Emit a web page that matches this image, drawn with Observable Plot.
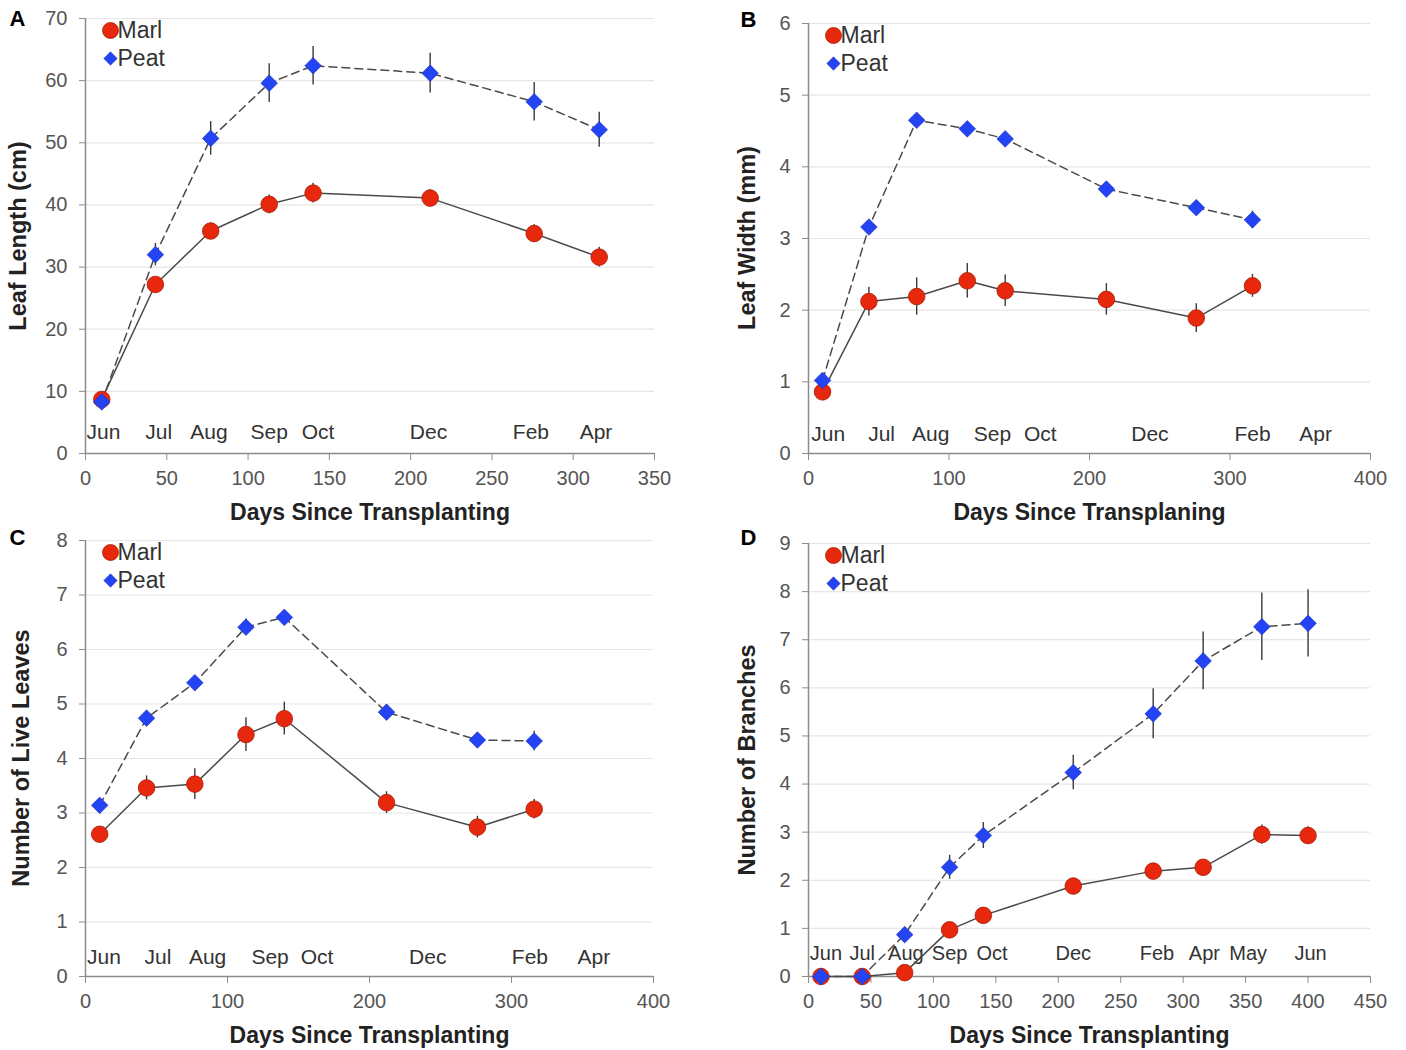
<!DOCTYPE html>
<html><head><meta charset="utf-8">
<script src="https://cdn.jsdelivr.net/npm/d3@7"></script>
<script src="https://cdn.jsdelivr.net/npm/@observablehq/plot@0.6"></script>
<style>
body{margin:0;background:#fff;}
#wrap{position:relative;width:1406px;height:1050px;background:#fff;}
.panel{position:absolute;}
.panel svg{overflow:visible;}
.ytitle{position:absolute;white-space:nowrap;font-family:'Liberation Sans',Arial,sans-serif;font-weight:bold;font-size:23.5px;color:#222;transform:translate(-50%,-50%) rotate(-90deg);line-height:1;}
</style></head><body><div id="wrap"></div>
<script>
// ---- data ----
const seriesNames = ["Marl", "Peat"];
const daysABC = [10, 43, 77, 113, 140, 212, 276, 316];
const daysD = [10, 43, 77, 113, 140, 212, 276, 316, 363, 400];

// A: Leaf Length (cm)
const marlA = [8.7, 27.2, 35.8, 40.1, 41.9, 41.1, 35.4, 31.6];
const marlAErr = [0.5, 1.0, 1.3, 1.5, 1.6, 1.4, 1.4, 1.6];
const peatA = [8.3, 32.0, 50.7, 59.6, 62.4, 61.2, 56.6, 52.1];
const peatAErr = [0.5, 1.8, 2.7, 3.1, 3.1, 3.2, 3.1, 2.8];
const monthsA = ["Jun", "Jul", "Aug", "Sep", "Oct", "Dec", "Feb", "Apr"];
const monthDaysA = [11, 45, 76, 113, 143, 211, 274, 314];

// B: Leaf Width (mm)
const marlB = [0.86, 2.12, 2.19, 2.41, 2.27, 2.15, 1.89, 2.34];
const marlBErr = [0.05, 0.2, 0.26, 0.24, 0.22, 0.22, 0.2, 0.16];
const peatB = [1.02, 3.16, 4.65, 4.53, 4.39, 3.69, 3.43, 3.26];
const peatBErr = [0.05, 0.05, 0.05, 0.06, 0.06, 0.06, 0.08, 0.12];
const monthsB = ["Jun", "Jul", "Aug", "Sep", "Oct", "Dec", "Feb", "Apr"];
const monthDaysB = [14, 52, 87, 131, 165, 243, 316, 361];

// C: Number of Live Leaves
const marlC = [2.61, 3.46, 3.53, 4.44, 4.73, 3.19, 2.74, 3.07];
const marlCErr = [0.1, 0.22, 0.28, 0.31, 0.3, 0.2, 0.2, 0.18];
const peatC = [3.14, 4.74, 5.39, 6.41, 6.59, 4.85, 4.34, 4.32];
const peatCErr = [0.08, 0.05, 0.05, 0.15, 0.05, 0.12, 0.08, 0.18];
const monthsC = ["Jun", "Jul", "Aug", "Sep", "Oct", "Dec", "Feb", "Apr"];
const monthDaysC = [13, 51, 86, 130, 163, 241, 313, 358];

// D: Number of Branches
const marlD = [0, 0, 0.08, 0.97, 1.27, 1.88, 2.19, 2.27, 2.95, 2.93];
const marlDErr = [0, 0, 0.05, 0.1, 0.1, 0.08, 0.1, 0.1, 0.2, 0.18];
const peatD = [0, 0, 0.87, 2.27, 2.93, 4.24, 5.46, 6.56, 7.27, 7.34];
const peatDErr = [0, 0, 0.15, 0.25, 0.27, 0.36, 0.52, 0.6, 0.7, 0.7];
const monthsD = ["Jun", "Jul", "Aug", "Sep", "Oct", "Dec", "Feb", "Apr", "May", "Jun"];
const monthDaysD = [14, 43, 78, 113, 147, 212, 279, 317, 352, 402];

// ---- styling ----
const FONT = "'Liberation Sans', Arial, sans-serif";
const RED = "#e8280c", RED_STROKE = "#a61d08";
const BLUE = "#2443f2", BLUE_STROKE = "#1a33c8";
const AXIS = "#8c8c8c", TICKTXT = "#555";

function rows(days, vals, errs) {
  return days.map((d, i) => ({day: d, v: vals[i], e: errs[i]}));
}

function panel(cfg) {
  const W = 703, H = 525;
  const m = cfg.margin;
  const marl = rows(cfg.days, cfg.marl, cfg.marlErr);
  const peat = rows(cfg.days, cfg.peat, cfg.peatErr);
  const yTicks = d3.range(0, cfg.yMax + 1e-9, cfg.yStep);
  const xTicks = d3.range(0, cfg.xMax + 1e-9, cfg.xStep);
  const months = cfg.months.map((t, i) => ({t, d: cfg.monthDays[i]}));
  const plot = Plot.plot({
    width: W, height: H,
    marginLeft: m.l, marginRight: m.r, marginTop: m.t, marginBottom: m.b,
    x: {domain: [0, cfg.xMax]},
    y: {domain: [0, cfg.yMax]},
    style: {fontFamily: FONT, background: "white", overflow: "visible"},
    marks: [
      Plot.gridY({ticks: yTicks.slice(1), stroke: "#e6e6e6", strokeOpacity: 1, strokeWidth: 1.2}),
      Plot.axisY({ticks: yTicks, tickSize: 6, tickPadding: 12, fontSize: 20, color: TICKTXT, stroke: AXIS, label: null, tickFormat: d3.format("d")}),
      Plot.axisX({ticks: xTicks, tickSize: 7, tickPadding: 10, fontSize: 20, color: TICKTXT, stroke: AXIS, label: null, tickFormat: d3.format("d")}),
      Plot.ruleX([0], {stroke: AXIS, strokeWidth: 1.5}),
      Plot.ruleY([0], {stroke: AXIS, strokeWidth: 1.5}),
      Plot.text(months, {x: "d", text: "t", frameAnchor: "bottom", dy: cfg.monthDy, lineAnchor: "middle", fontSize: cfg.monthSize, fill: "#333"}),
      Plot.line(peat, {x: "day", y: "v", stroke: "#4a4a4a", strokeWidth: 1.5, strokeDasharray: "8,5"}),
      Plot.line(marl, {x: "day", y: "v", stroke: "#4a4a4a", strokeWidth: 1.5}),
      Plot.ruleX(marl.filter(d => d.e > 0), {x: "day", y1: d => d.v - d.e, y2: d => d.v + d.e, stroke: "#3a3a3a", strokeWidth: 1.4}),
      Plot.ruleX(peat.filter(d => d.e > 0), {x: "day", y1: d => d.v - d.e, y2: d => d.v + d.e, stroke: "#3a3a3a", strokeWidth: 1.4}),
      Plot.dot(marl, {x: "day", y: "v", r: 8.3, fill: RED, stroke: RED_STROKE, strokeWidth: 0.8}),
      Plot.dot(peat, {x: "day", y: "v", r: 7.5, symbol: "diamond2", fill: BLUE, stroke: BLUE_STROKE, strokeWidth: 0.6}),
      // legend
      Plot.dot([seriesNames[0]], {frameAnchor: "top-left", dx: 25, dy: 12, r: 8, fill: RED, stroke: RED_STROKE, strokeWidth: 0.8}),
      Plot.text([seriesNames[0]], {frameAnchor: "top-left", text: d => d, dx: 32, dy: 12, textAnchor: "start", lineAnchor: "middle", fontSize: 23, fill: "#333"}),
      Plot.dot([seriesNames[1]], {frameAnchor: "top-left", dx: 25, dy: 40, r: 6, symbol: "diamond2", fill: BLUE, stroke: BLUE_STROKE, strokeWidth: 0.6}),
      Plot.text([seriesNames[1]], {frameAnchor: "top-left", text: d => d, dx: 32, dy: 40, textAnchor: "start", lineAnchor: "middle", fontSize: 23, fill: "#333"}),
      // x axis title
      Plot.text([cfg.xLabel], {frameAnchor: "bottom", text: d => d, dy: 59, lineAnchor: "middle", fontSize: 23, fontWeight: "bold", fill: "#222"}),
      // panel letter
      Plot.text([cfg.letter], {frameAnchor: "top-left", text: d => d, dx: cfg.letterX - m.l, dy: cfg.letterY - m.t, textAnchor: "middle", lineAnchor: "middle", fontSize: 22, fontWeight: "bold", fill: "#000"})
    ]
  });
  const div = document.createElement("div");
  div.className = "panel";
  div.style.left = cfg.left + "px";
  div.style.top = cfg.top + "px";
  div.appendChild(plot);
  const yt = document.createElement("div");
  yt.className = "ytitle";
  yt.textContent = cfg.yLabel;
  yt.style.left = cfg.yLabelX + "px";
  yt.style.top = (m.t + (H - m.t - m.b) / 2) + "px";
  div.appendChild(yt);
  document.getElementById("wrap").appendChild(div);
}

panel({letter: "A", left: 0, top: 0, margin: {l: 85, r: 49, t: 18, b: 72},
  days: daysABC, marl: marlA, marlErr: marlAErr, peat: peatA, peatErr: peatAErr,
  yMax: 70, yStep: 10, xMax: 350, xStep: 50, months: monthsA, monthDays: monthDaysA, monthDy: -21, monthSize: 21,
  xLabel: "Days Since Transplanting", yLabel: "Leaf Length (cm)", yLabelX: 19, letterX: 17, letterY: 18});

panel({letter: "B", left: 703, top: 0, margin: {l: 105, r: 36, t: 23, b: 72},
  days: daysABC, marl: marlB, marlErr: marlBErr, peat: peatB, peatErr: peatBErr,
  yMax: 6, yStep: 1, xMax: 400, xStep: 100, months: monthsB, monthDays: monthDaysB, monthDy: -19, monthSize: 21,
  xLabel: "Days Since Transplaning", yLabel: "Leaf Width (mm)", yLabelX: 45, letterX: 45, letterY: 19});

panel({letter: "C", left: 0, top: 525, margin: {l: 85, r: 50, t: 15, b: 74},
  days: daysABC, marl: marlC, marlErr: marlCErr, peat: peatC, peatErr: peatCErr,
  yMax: 8, yStep: 1, xMax: 400, xStep: 100, months: monthsC, monthDays: monthDaysC, monthDy: -19, monthSize: 21,
  xLabel: "Days Since Transplanting", yLabel: "Number of Live Leaves", yLabelX: 22, letterX: 17, letterY: 12});

panel({letter: "D", left: 703, top: 525, margin: {l: 105, r: 36, t: 18, b: 74},
  days: daysD, marl: marlD, marlErr: marlDErr, peat: peatD, peatErr: peatDErr,
  yMax: 9, yStep: 1, xMax: 450, xStep: 50, months: monthsD, monthDays: monthDaysD, monthDy: -23, monthSize: 20,
  xLabel: "Days Since Transplanting", yLabel: "Number of Branches", yLabelX: 45, letterX: 45, letterY: 12});
</script>
</body></html>
